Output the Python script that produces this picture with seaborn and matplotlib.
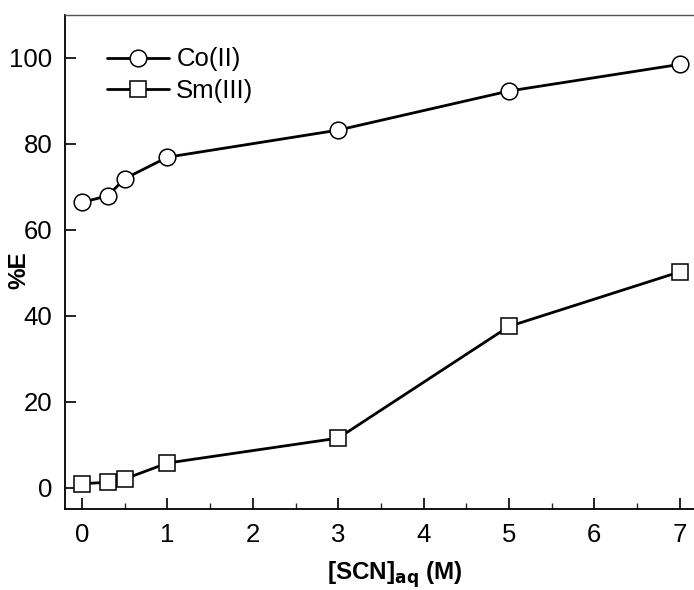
import matplotlib.pyplot as plt
import matplotlib.ticker as mticker
import seaborn as sns

# data
scn = [0, 0.3, 0.5, 1, 3, 5, 7]
co_e = [66.4, 67.9, 71.9, 76.9, 83.2, 92.3, 98.5]
sm_e = [0.9, 1.2, 2.0, 5.7, 11.5, 37.5, 50.2]

sns.set_style("white")
plt.rcParams["font.family"] = ["Liberation Sans", "DejaVu Sans"]
plt.rcParams["text.color"] = "black"
plt.rcParams["axes.labelcolor"] = "black"

fig = plt.figure(figsize=(6.94, 5.9), dpi=100)
ax = fig.add_axes([0.0937, 0.1373, 0.9103, 0.8373])

sns.lineplot(x=scn, y=co_e, ax=ax, color="black", lw=2.0, marker="o",
             markersize=12, markerfacecolor="white", markeredgecolor="black",
             markeredgewidth=1.1, label="Co(II)")
sns.lineplot(x=scn, y=sm_e, ax=ax, color="black", lw=2.0, marker="s",
             markersize=11, markerfacecolor="white", markeredgecolor="black",
             markeredgewidth=1.1, label="Sm(III)")

ax.set_xlim(-0.2, 7.2)
ax.set_ylim(-5, 110)
ax.set_xticks(range(0, 8))
ax.set_yticks([0, 20, 40, 60, 80, 100])
ax.xaxis.set_minor_locator(mticker.MultipleLocator(0.5))
ax.tick_params(axis="both", which="major", direction="in", length=8, width=1.2,
               labelsize=18.5, colors="black", bottom=True, left=True)
ax.tick_params(axis="x", which="minor", direction="in", length=4, width=1, bottom=True)
ax.tick_params(axis="x", pad=10)
ax.tick_params(axis="y", pad=9)

for s in ["left", "bottom"]:
    ax.spines[s].set_color("black")
    ax.spines[s].set_linewidth(1.3)
ax.spines["top"].set_color("#555555")
ax.spines["top"].set_linewidth(1.0)
ax.spines["right"].set_visible(False)

ax.set_xlabel(r"[SCN]$_{\mathbf{aq}}$ (M)", fontsize=17.5, fontweight="bold")
ax.set_ylabel("%E", fontsize=17.5, fontweight="bold")
ax.xaxis.set_label_coords(0.522, -0.101)
ax.yaxis.set_label_coords(-0.055, 0.484)

ax.legend(loc="upper left", bbox_to_anchor=(0.05, 0.955), frameon=False, fontsize=18.5,
          handlelength=2.4, handletextpad=0.3, labelspacing=0.3, borderaxespad=0)

fig.savefig("out.png", dpi=100)
